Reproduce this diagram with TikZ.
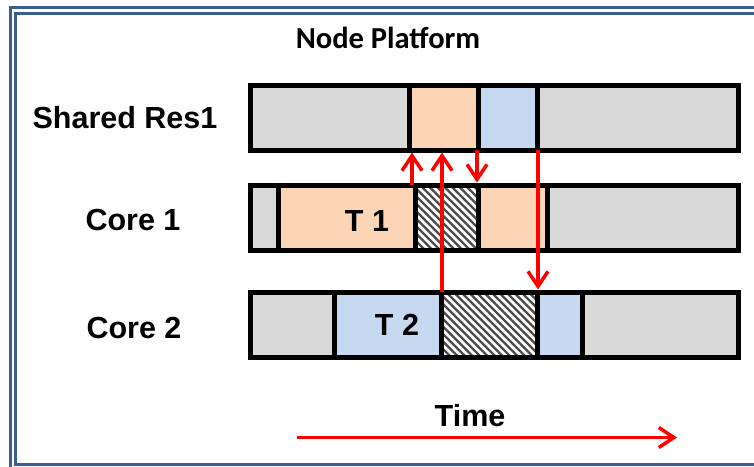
\documentclass[tikz,border=0pt]{standalone}
\usepackage{fontspec}
\setmainfont{Liberation Sans}
\newfontfamily\titlefont{Carlito}
\usepackage{tikz}
\usetikzlibrary{positioning,calc,arrows.meta}
\definecolor{resgray}{HTML}{D9D9D9}
\definecolor{torange}{HTML}{FBD5B5}
\definecolor{tblue}{HTML}{C6D9F1}
\definecolor{framebl}{HTML}{3A5E8E}

\begin{document}
\begin{tikzpicture}[x=1pt,y=-1pt,
	seg/.style={draw=black,line width=5pt,minimum height=65pt,inner sep=0pt,outer sep=0pt,anchor=north west},
	hatch/.style={fill=white,path picture={
		\foreach \k in {0,...,25}
			\draw[black!70,line width=2.2pt] ($(path picture bounding box.north west)+(\k*7.5-80,-10)$) -- ++(90,90);}},
	lbl/.style={font=\bfseries\fontsize{30.5}{36}\selectfont,anchor=base,inner sep=0pt},
	sig/.style={draw=red,line width=3.5pt,shorten >=2.5pt,-{Straight Barb[length=15pt,width=20pt,line width=3.5pt]}}]

	\useasboundingbox (0,0) rectangle (754,466);
	\clip (0,0) rectangle (754,466);
	\fill[white] (0,0) rectangle (754,466);

	% frame
	\draw[framebl,line width=3pt] (10.5,7) rectangle (790,500);
	\draw[framebl,line width=2.5pt] (15.5,13.5) rectangle (790,464.5);

	\node[lbl,font=\titlefont\bfseries\fontsize{30.5}{36}\selectfont] (title) at (388,48) {Node Platform};

	% shared resource
	\node[seg,fill=resgray,minimum width=159pt] (r1) at (250,85) {};
	\node[seg,fill=torange,minimum width=69pt,right=0pt of r1] (r2) {};
	\node[seg,fill=tblue,minimum width=59pt,right=0pt of r2] (r3) {};
	\node[seg,fill=resgray,minimum width=201pt,right=0pt of r3] (r4) {};

	% core 1
	\node[seg,fill=resgray,minimum width=28pt] (a1) at (250,185) {};
	\node[seg,fill=torange,minimum width=137pt,right=0pt of a1] (a2) {};
	\node[seg,hatch,minimum width=63pt,right=0pt of a2] (a3) {};
	\node[seg,fill=torange,minimum width=69pt,right=0pt of a3] (a4) {};
	\node[seg,fill=resgray,minimum width=191pt,right=0pt of a4] (a5) {};

	% core 2
	\node[seg,fill=resgray,minimum width=84pt] (b1) at (250,292) {};
	\node[seg,fill=tblue,minimum width=107pt,right=0pt of b1] (b2) {};
	\node[seg,hatch,minimum width=96pt,right=0pt of b2] (b3) {};
	\node[seg,fill=tblue,minimum width=45pt,right=0pt of b3] (b4) {};
	\node[seg,fill=resgray,minimum width=156pt,right=0pt of b4] (b5) {};

	\node[lbl] (res) at (125,128) {Shared Res1};
	\node[lbl] (core1) at (133,230) {Core 1};
	\node[lbl] (core2) at (134,338) {Core 2};
	\node[lbl] (t1) at (367,231) {T 1};
	\node[lbl] (t2) at (397,335) {T 2};

	% requests and releases
	\coordinate (x1) at (412,0);
	\coordinate (x2) at (442,0);
	\coordinate (x3) at (477,0);
	\coordinate (x4) at (538,0);
	\draw[sig] (x1 |- a2.north) -- (x1 |- r2.south);
	\draw[sig] (x2 |- b3.north) -- (x2 |- r2.south);
	\draw[sig] (x3 |- r3.south) -- (x3 |- a4.north);
	\draw[sig] (x4 |- r4.south) -- (x4 |- b4.north);

	% time axis
	\node[lbl] (time) at (470,426) {Time};
	\coordinate (ts) at (297,437.5);
	\coordinate (te) at (677,437.5);
	\draw[sig,shorten >=0pt] (ts) -- (te);

\end{tikzpicture}
\end{document}
